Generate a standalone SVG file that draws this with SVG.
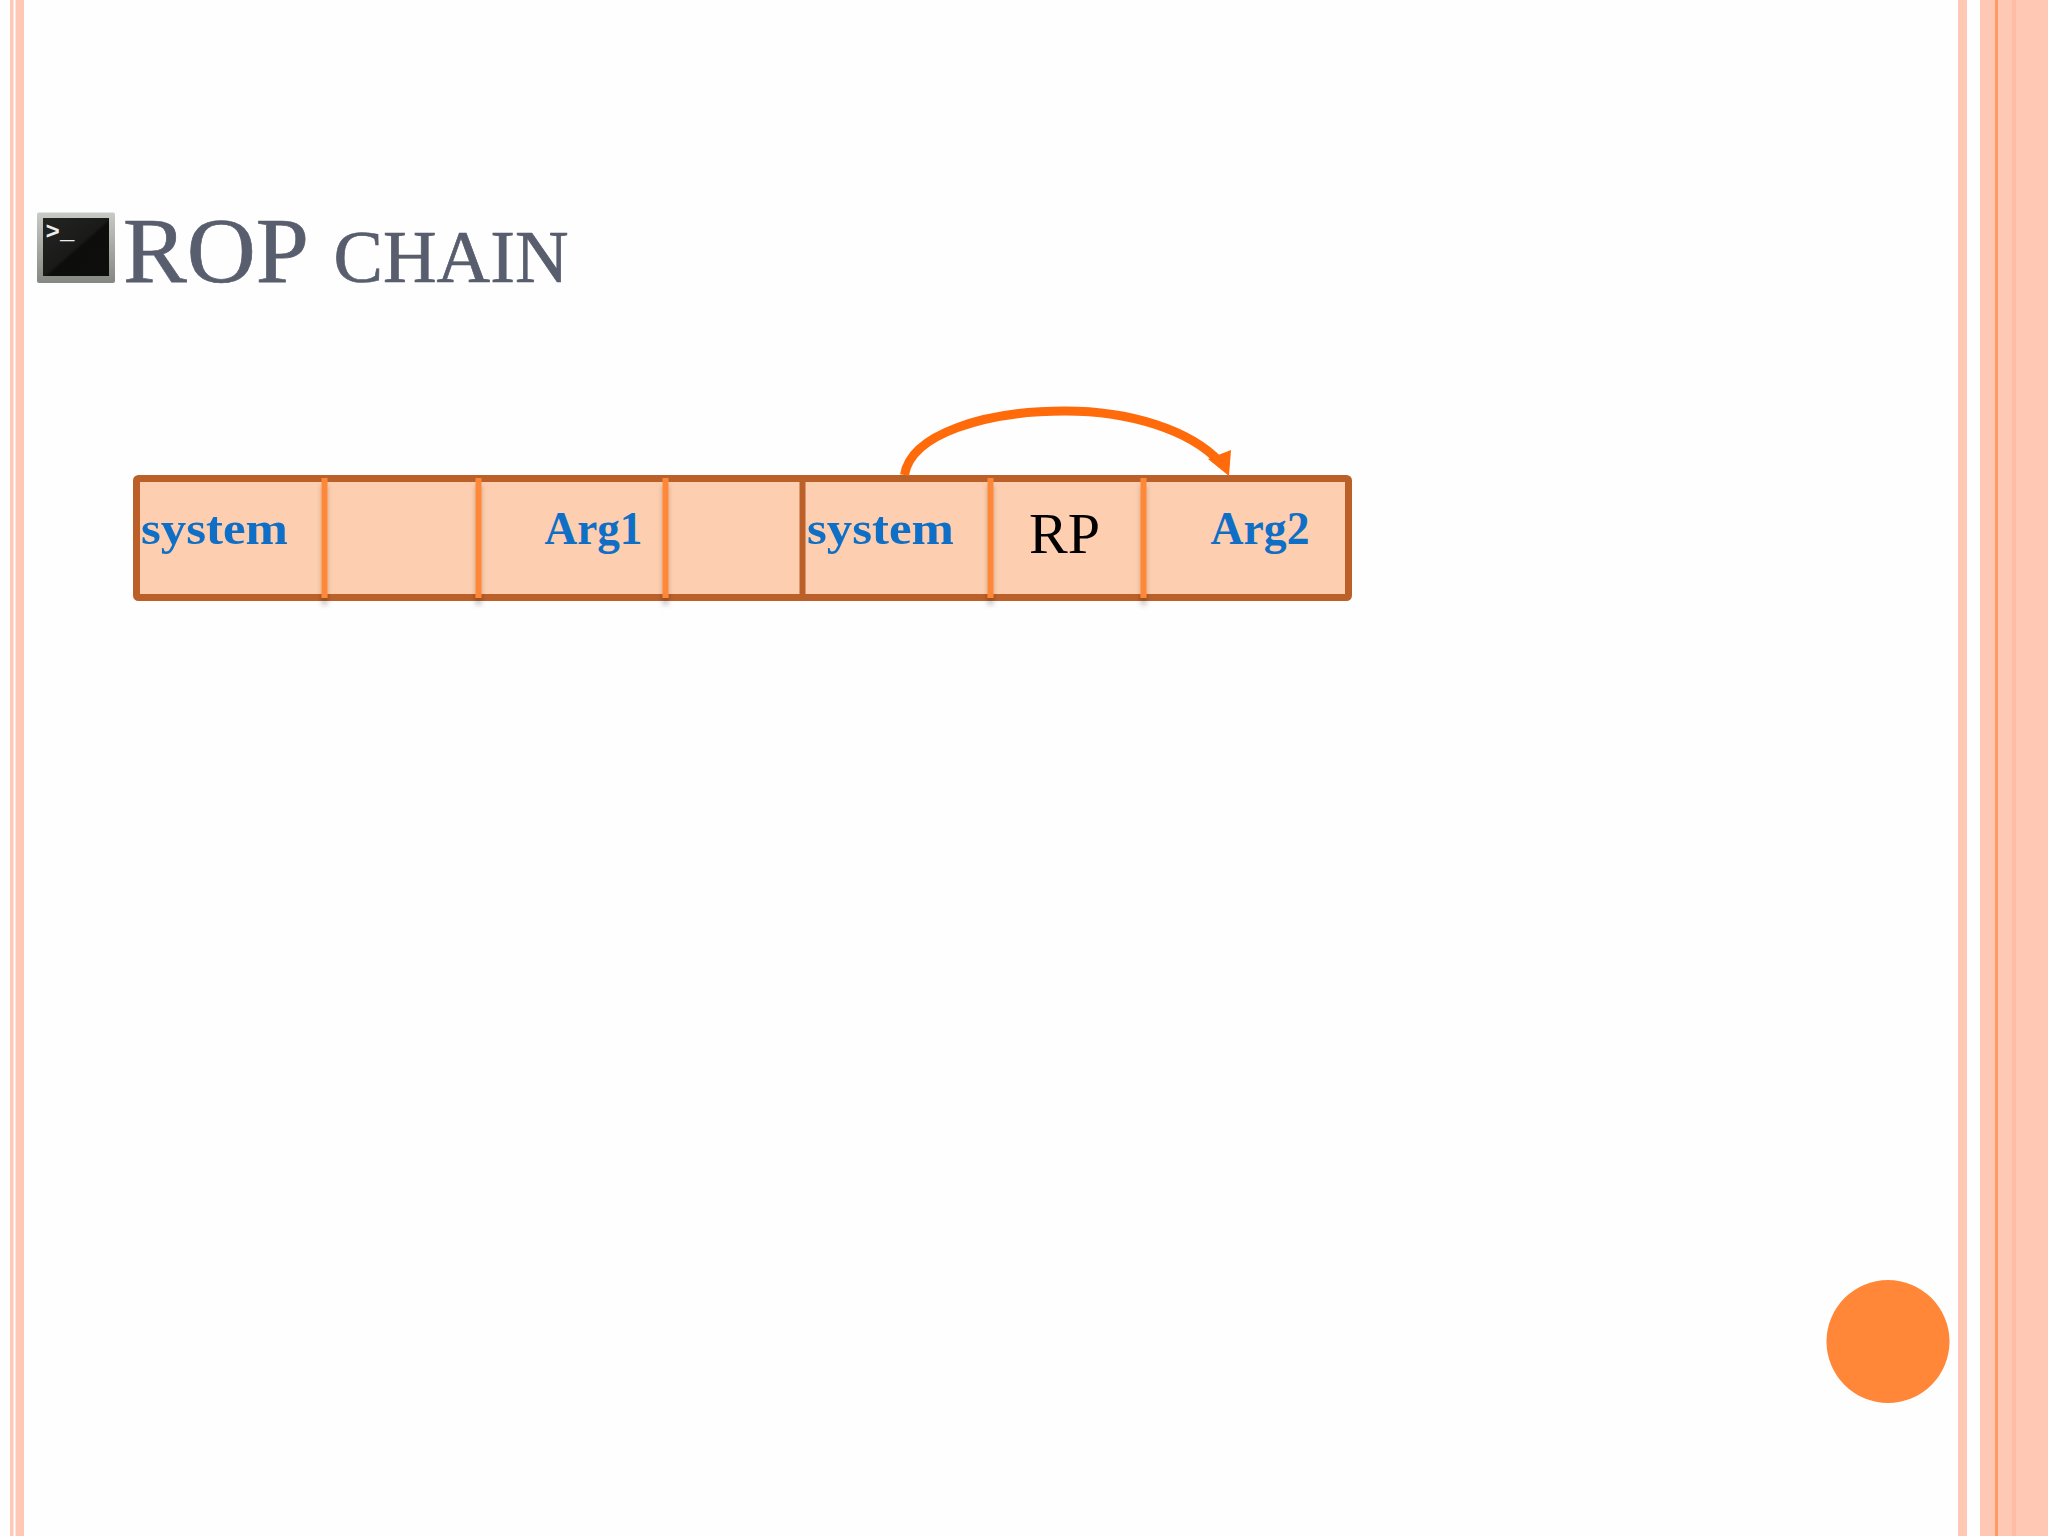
<svg xmlns="http://www.w3.org/2000/svg" width="2048" height="1536" viewBox="0 0 2048 1536">
<style>
.stripe{fill:#FFC8B5}
.title{font-family:"Liberation Serif",serif;fill:#585E6D;stroke:#585E6D;stroke-width:0.7px}
.cell-label{font-family:"Liberation Serif",serif;font-weight:bold;font-size:46px;fill:#0F6FC6}
.div{fill:#FF8737;filter:url(#sh)}
</style>
<defs>
<filter id="sh" x="-300%" y="-5%" width="700%" height="115%"><feDropShadow dx="0" dy="7" stdDeviation="2.500" flood-color="#000" flood-opacity="0.22"/></filter>
<linearGradient id="frame" x1="0" y1="0" x2="0" y2="1"><stop offset="0" stop-color="#C8CAC6"/><stop offset="1" stop-color="#858783"/></linearGradient>
<linearGradient id="screen" x1="0" y1="0" x2="1" y2="1"><stop offset="0" stop-color="#242422"/><stop offset="0.5" stop-color="#1A1B19"/><stop offset="0.54" stop-color="#0D0E0C"/><stop offset="1" stop-color="#0E0F0D"/></linearGradient>
</defs>
<rect width="2048" height="1536" fill="#FEFEFE"/>
<g id="frame-left">
<rect class="stripe" x="10" y="0" width="3.500" height="1536"/>
<rect class="stripe" x="15.500" y="0" width="8.500" height="1536"/>
</g>
<g id="frame-right">
<rect class="stripe" x="1958" y="0" width="9" height="1536"/>
<rect class="stripe" x="1980" y="0" width="68" height="1536"/>
<rect x="1995" y="0" width="3" height="1536" fill="#FF9A66"/>
<rect x="2012" y="0" width="4" height="1536" fill="#FFBDA5"/>
</g>
<g id="title">
<g id="terminal-icon">
<rect x="37" y="212.500" width="78" height="70.500" rx="2" fill="url(#frame)"/>
<rect x="43" y="218" width="66" height="58" fill="url(#screen)"/>
<text x="45.500" y="239" font-family="Liberation Mono,monospace" font-weight="bold" font-size="24" fill="#EDEDED">&gt;_</text>
</g>
<text class="title" x="123" y="282" font-size="94" textLength="186" lengthAdjust="spacingAndGlyphs">ROP</text>
<text class="title" x="333.500" y="282" font-size="75" textLength="235" lengthAdjust="spacingAndGlyphs">CHAIN</text>
</g>
<g id="bar">
<rect x="136.500" y="478.500" width="1212" height="119" rx="2" fill="#FDCFB0" stroke="#BC6029" stroke-width="7"/>
<rect x="799.500" y="478" width="6" height="120" fill="#BC6029"/>
</g>
<g id="dividers">
<rect class="div" x="321.500" y="478" width="6" height="120"/>
<rect class="div" x="475.500" y="478" width="6" height="120"/>
<rect class="div" x="662.500" y="478" width="6" height="120"/>
<rect class="div" x="987.500" y="478" width="6" height="120"/>
<rect class="div" x="1140.500" y="478" width="6" height="120"/>
</g>
<g id="cell-system-1"><text class="cell-label" x="141" y="544" textLength="147" lengthAdjust="spacingAndGlyphs">system</text></g>
<g id="cell-arg1"><text class="cell-label" x="544.500" y="544" textLength="98" lengthAdjust="spacingAndGlyphs">Arg1</text></g>
<g id="cell-system-2"><text class="cell-label" x="807" y="544" textLength="147" lengthAdjust="spacingAndGlyphs">system</text></g>
<g id="cell-rp"><text x="1029" y="553" font-family="Liberation Serif,serif" font-size="58" fill="#000" textLength="71" lengthAdjust="spacingAndGlyphs">RP</text></g>
<g id="cell-arg2"><text class="cell-label" x="1210.500" y="544" textLength="99" lengthAdjust="spacingAndGlyphs">Arg2</text></g>
<g id="connectors">
<path d="M904.500 475 C911 434 985 411 1065 411 C1130 411 1190 430 1220 462" fill="none" stroke="#FF6A0A" stroke-width="9"/>
<polygon points="1231,450 1229,476 1208,459" fill="#FF6A0A"/>
</g>
<g id="dot"><circle cx="1888" cy="1341.500" r="61.500" fill="#FF8737"/></g>
</svg>
